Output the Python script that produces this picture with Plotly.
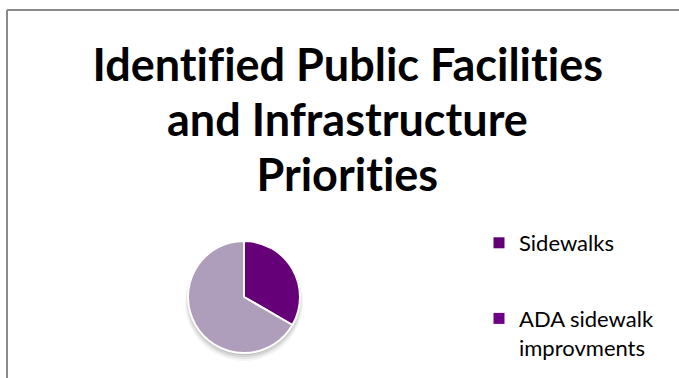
import plotly.graph_objects as go

# Data
categories = ["Sidewalks", "ADA sidewalk<br>improvments"]
values = [1, 2]
slice_colors = ["#660078", "#ae9dbb"]
legend_colors = ["#5e0072", "#6c0086"]
title_lines = ["Identified Public Facilities", "and Infrastructure", "Priorities"]

W, H = 679, 378
FONT = "Lato"

# pie placement in pixels
cx, cy, r = 244, 297, 56


def px_x(v):
    return v / W


def px_y(v):
    return 1 - v / H


fig = go.Figure()

fig.add_trace(go.Pie(
    labels=categories,
    values=values,
    marker=dict(colors=slice_colors, line=dict(color="white", width=2)),
    sort=False,
    direction="clockwise",
    rotation=0,
    textinfo="none",
    hoverinfo="label+percent",
    showlegend=False,
    domain=dict(x=[px_x(cx - r), px_x(cx + r)], y=[px_y(cy + r), px_y(cy - r)]),
))

# legend entries
for name, col in zip(categories, legend_colors):
    fig.add_trace(go.Scatter(
        x=[None], y=[None], mode="markers", name=name,
        marker=dict(symbol="square", size=11, color=col),
        legendgroup=name,
    ))

# soft shadow, mostly below the pie
shapes = []
for k, op in [(5, 0.04), (4, 0.06), (3, 0.08), (2, 0.10)]:
    rr = r + k - 2
    oy = cy + k
    shapes.append(dict(
        type="circle", xref="paper", yref="paper", layer="below",
        x0=px_x(cx - rr), x1=px_x(cx + rr),
        y0=px_y(oy + rr), y1=px_y(oy - rr),
        fillcolor=f"rgba(0,0,0,{op})", line=dict(width=0),
    ))

# frame lines (top and left)
shapes.append(dict(type="line", xref="paper", yref="paper",
                   x0=px_x(7), x1=1, y0=px_y(10), y1=px_y(10),
                   line=dict(color="#8a8a8a", width=2)))
shapes.append(dict(type="line", xref="paper", yref="paper",
                   x0=px_x(7), x1=px_x(7), y0=px_y(10), y1=0,
                   line=dict(color="#8a8a8a", width=2)))

# title, one annotation per line for tight line spacing
title_y = [64, 119, 174]
annotations = [
    dict(text=line, xref="paper", yref="paper",
         x=px_x(348), y=px_y(ty), xanchor="center", yanchor="middle",
         showarrow=False,
         font=dict(family=FONT, size=45, color="black", weight="bold"))
    for line, ty in zip(title_lines, title_y)
]

fig.update_layout(
    width=W, height=H,
    margin=dict(l=0, r=0, t=0, b=0),
    paper_bgcolor="white",
    plot_bgcolor="white",
    xaxis=dict(visible=False),
    yaxis=dict(visible=False),
    shapes=shapes,
    annotations=annotations,
    legend=dict(
        x=px_x(479), y=px_y(222), xanchor="left", yanchor="top",
        font=dict(family=FONT, size=22, color="black"),
        valign="top",
        tracegroupgap=44,
        traceorder="grouped",
        bgcolor="rgba(0,0,0,0)",
    ),
)

# plain letterforms, no ligatures
post = ("var s=document.createElement('style');"
        "s.textContent='text{font-variant-ligatures:none;font-feature-settings:\"liga\" 0,\"clig\" 0;}';"
        "document.head.appendChild(s);")

fig.write_html("out.html", post_script=post)
